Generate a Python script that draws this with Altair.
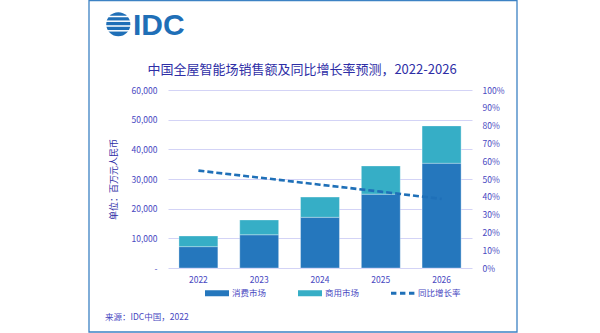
import altair as alt
import pandas as pd

# ---------------- data ----------------
years = ["2022", "2023", "2024", "2025", "2026"]
consumer = [7200, 11200, 17100, 24900, 35300]
commercial = [3600, 5000, 6800, 9500, 12600]
growth = [0.547, 0.508, 0.468, 0.429, 0.388]
series = ["消费市场", "商用市场", "同比增长率"]
colors = ["#2577bd", "#36aec6", "#1f70b8"]
left_ticks = [0, 10000, 20000, 30000, 40000, 50000, 60000]
right_ticks = [0, 0.1, 0.2, 0.3, 0.4, 0.5, 0.6, 0.7, 0.8, 0.9, 1.0]
title_text = "中国全屋智能场销售额及同比增长率预测，2022-2026"
y_title = "单位：百万元人民币"
source_text = "来源：IDC中国，2022"

# ---------------- style ----------------
FONT = "Noto Sans CJK SC"
LABEL_COLOR = "#4747bf"
TITLE_COLOR = "#2e2ea6"
GRID_COLOR = "#d3d3f6"
W, H = 304, 178
PAD = {"left": 168, "top": 90, "right": 128, "bottom": 65}

rows = []
for i, yr in enumerate(years):
    rows.append({"year": yr, "series": series[0], "value": consumer[i], "ord": 0})
    rows.append({"year": yr, "series": series[1], "value": commercial[i], "ord": 1})
bars_df = pd.DataFrame(rows)
line_df = pd.DataFrame({"year": years, "growth": growth})
legend_df = pd.DataFrame({"series": series})
one = pd.DataFrame({"k": [0]})

x_enc = alt.X(
    "year:N",
    sort=years,
    scale=alt.Scale(paddingInner=0.36, paddingOuter=0.18),
    axis=alt.Axis(title=None, labelAngle=0, ticks=False, domain=False,
                  labelPadding=7, labelFontSize=8.5, labelColor=LABEL_COLOR,
                  labelFont=FONT),
)
color_scale = alt.Scale(domain=series, range=colors)

bar_base = alt.Chart(bars_df).mark_bar(
    stroke="#ffffff", strokeOpacity=0.4, strokeWidth=0.8
).encode(
    x=x_enc,
    y=alt.Y(
        "value:Q", stack="zero",
        scale=alt.Scale(domain=[0, 60000], nice=False),
        axis=alt.Axis(
            values=left_ticks,
            labelExpr="datum.value === 0 ? '-\u00a0\u00a0' : format(datum.value, ',')",
            title=y_title, titleFont=FONT, titleFontSize=9, titleFontWeight="normal",
            titleColor=TITLE_COLOR, titlePadding=13,
            grid=True, gridColor=GRID_COLOR, gridWidth=1.2,
            ticks=False, domain=False, labelPadding=11,
            labelFontSize=8.5, labelColor=LABEL_COLOR, labelFont=FONT,
        ),
    ),
    color=alt.Color("series:N", scale=color_scale, legend=None),
    order=alt.Order("ord:Q"),
)
bars_top = bar_base.transform_filter(alt.datum.year == "2026")
bars = alt.layer(bar_base, bars_top)

line = alt.Chart(line_df).mark_line(
    color=colors[2], strokeWidth=2.6, strokeDash=[6, 3]
).encode(
    x=x_enc,
    y=alt.Y(
        "growth:Q",
        scale=alt.Scale(domain=[0, 1], nice=False),
        axis=alt.Axis(
            orient="right", values=right_ticks, format=".0%", title=None,
            grid=False, ticks=False, domain=False, labelPadding=10,
            labelFontSize=8.5, labelColor=LABEL_COLOR, labelFont=FONT,
        ),
    ),
)

rect_path = "M-1,-0.25L1,-0.25L1,0.25L-1,0.25Z"
dash_path = ("M-1,-0.12L-0.55,-0.12L-0.55,0.12L-1,0.12Z "
             "M-0.25,-0.12L0.2,-0.12L0.2,0.12L-0.25,0.12Z "
             "M0.5,-0.12L0.95,-0.12L0.95,0.12L0.5,0.12Z")
leg = dict(
    title=None, orient="none", legendX=37, legendY=191, direction="horizontal",
    columns=3, columnPadding=31, labelOffset=3, symbolSize=576,
    symbolOpacity=1, symbolStrokeWidth=0, labelFontSize=8.5,
    labelColor=LABEL_COLOR, labelFont=FONT,
)
legend_layer = alt.Chart(legend_df).mark_point(filled=True).encode(
    color=alt.Color("series:N", scale=color_scale, legend=alt.Legend(**leg)),
    shape=alt.Shape("series:N",
                    scale=alt.Scale(domain=series, range=[rect_path, rect_path, dash_path]),
                    legend=alt.Legend(**leg)),
    opacity=alt.value(0),
)

# ---------------- decorations ----------------
frame = alt.Chart(one).mark_rect(
    fillOpacity=0, stroke="#3c82c4", strokeWidth=1.3
).encode(x=alt.value(-79), x2=alt.value(349), y=alt.value(-89.4), y2=alt.value(242))

logo_c = alt.Chart(one).mark_point(
    shape="circle", filled=True, size=580, color="#1f6fb7", opacity=1
).encode(x=alt.value(-49.7), y=alt.value(-65.8))
stripes = [
    alt.Chart(one).mark_rule(color="white", strokeWidth=1.5).encode(
        x=alt.value(-63), x2=alt.value(-36), y=alt.value(yy))
    for yy in (-73.5, -68.8, -64.0, -59.2)
]
logo_t = alt.Chart(one).mark_text(
    text="IDC", font="Liberation Sans", fontSize=30, fontWeight="bold",
    color="#1f6fb7", align="left", baseline="alphabetic"
).encode(x=alt.value(-35), y=alt.value(-55))

title = alt.Chart(one).mark_text(
    text=title_text, font=FONT, fontSize=13, color=TITLE_COLOR,
    align="center", baseline="alphabetic"
).encode(x=alt.value(134), y=alt.value(-16.5))

source = alt.Chart(one).mark_text(
    text=source_text, font=FONT, fontSize=8.5, color=LABEL_COLOR,
    align="left", baseline="middle"
).encode(x=alt.value(-63), y=alt.value(227))

main = alt.layer(bars, line).resolve_scale(y="independent")

chart = alt.layer(
    frame, main, legend_layer, logo_c, *stripes, logo_t, title, source
).resolve_scale(
    color="independent", shape="independent"
).resolve_legend(
    color="independent", shape="independent"
).properties(
    width=W, height=H,
    autosize=alt.AutoSizeParams(type="none"),
    padding=PAD,
    background="white",
).configure_view(stroke=None)

chart.save("out.html", embed_options={"renderer": "svg", "actions": False})
